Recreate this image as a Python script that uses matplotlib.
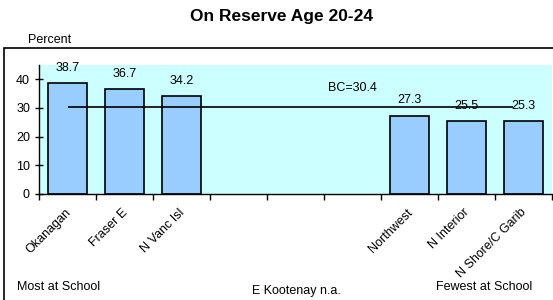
import numpy as np
import matplotlib.pyplot as plt
import matplotlib.transforms as mtransforms
from matplotlib.patches import Rectangle

plt.rcParams['font.family'] = ['Liberation Sans', 'DejaVu Sans']

# data
regions = ['Okanagan', 'Fraser E', 'N Vanc Isl', '', '', '',
           'Northwest', 'N Interior', 'N Shore/C Garib']
pct = [38.7, 36.7, 34.2, np.nan, np.nan, np.nan, 27.3, 25.5, 25.3]
bc_avg = 30.4
yticks = [0, 10, 20, 30, 40]

W, H = 553, 300
fig = plt.figure(figsize=(W / 100, H / 100), dpi=100)

# outer frame of the chart area
fig.patches.append(Rectangle((4 / W, -0.1), 1.2, 1 - 48 / H + 0.1,
                             transform=fig.transFigure, fill=False,
                             edgecolor='black', linewidth=1.2))

ax = fig.add_axes([39 / W, 1 - 194 / H, 513 / W, 129 / H])
ax.set_facecolor('#CCFFFF')

x = np.arange(len(regions))
vals = np.array(pct)
has = ~np.isnan(vals)
ax.bar(x[has], vals[has], width=0.67, color='#99CCFF', edgecolor='black',
       linewidth=1.2, zorder=2)
for xi, v in zip(x[has], vals[has]):
    ax.annotate(f'{v:.1f}', (xi, v), xytext=(0, 11), textcoords='offset points',
                ha='center', va='center', fontsize=9, zorder=4)

# BC average line
ax.hlines(bc_avg, 0, len(regions) - 1.18, color='black', linewidth=1.2, zorder=3)
ax.annotate(f'BC={bc_avg}', (5, bc_avg), xytext=(0, 13.5), textcoords='offset points',
            ha='center', va='center', fontsize=9)

ax.set_xlim(-0.5, len(regions) - 0.5)
ax.set_ylim(0, 45)
ax.set_yticks(yticks)
ax.tick_params(axis='y', direction='inout', length=6, labelsize=9, width=1)
ax.set_xticks(x)
ax.set_xticklabels(regions, rotation=45, ha='right', va='top',
                   rotation_mode='anchor', fontsize=9)
ax.tick_params(axis='x', which='major', length=0, pad=9)
shift = mtransforms.ScaledTranslation(-3 / 100, 0, fig.dpi_scale_trans)
for lbl in ax.get_xticklabels():
    lbl.set_transform(lbl.get_transform() + shift)
ax.set_xticks(np.arange(len(regions) + 1) - 0.5, minor=True)
ax.tick_params(axis='x', which='minor', direction='out', length=4, width=1)

for s in ['top', 'right']:
    ax.spines[s].set_visible(False)
for s in ['left', 'bottom']:
    ax.spines[s].set_linewidth(1)

fig.text(282 / W, 1 - 16 / H, 'On Reserve Age 20-24', ha='center', va='center',
         fontsize=12.5, fontweight='bold')
fig.text(50 / W, 1 - 40 / H, 'Percent', ha='center', va='center', fontsize=9)
fig.text(17 / W, 1 - 287 / H, 'Most at School', ha='left', va='center', fontsize=9)
fig.text(296 / W, 1 - 291 / H, 'E Kootenay n.a.', ha='center', va='center', fontsize=9)
fig.text(484 / W, 1 - 287 / H, 'Fewest at School', ha='center', va='center', fontsize=9)

fig.savefig('out.png', dpi=100, facecolor='white')
